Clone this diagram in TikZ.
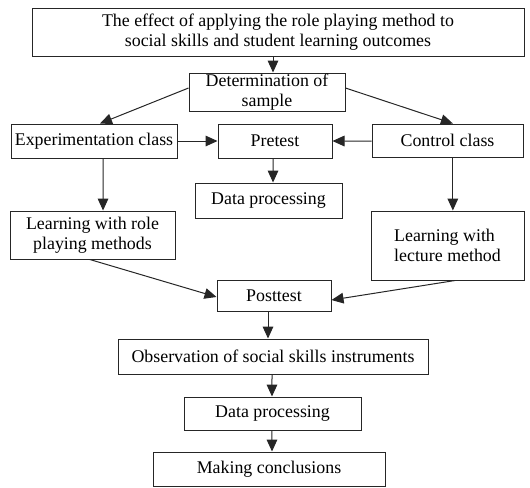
\documentclass[tikz,border=0pt]{standalone}
\usepackage{fontspec}
\setmainfont{Liberation Serif}
\usetikzlibrary{arrows.meta}
\begin{document}
\begin{tikzpicture}[x=0.75pt,y=-0.75pt,
  box/.style={draw=black!85,line width=0.75pt,rectangle,inner sep=0pt,align=center,
    font=\fontsize{13.4}{15.4}\selectfont},
  arr/.style={draw=black!85,line width=0.75pt,-{Triangle[length=9pt,width=8pt]}}]
\useasboundingbox (0,0) rectangle (530,487);
\node[box,minimum width=492*0.75pt,minimum height=48*0.75pt] (top) at (278,32)
  {The effect of applying the role playing method to\\social skills and student learning outcomes};
\node[box,minimum width=156*0.75pt,minimum height=38*0.75pt] (det) at (267,92) {Determination of\\sample};
\node[box,minimum width=166*0.75pt,minimum height=34*0.75pt] (exp) at (94,141) {Experimentation class};
\node[box,minimum width=114*0.75pt,minimum height=34*0.75pt] (pre) at (275,141) {Pretest};
\node[box,minimum width=151*0.75pt,minimum height=33*0.75pt] (ctrl) at (447.5,140.5) {Control class};
\node[box,minimum width=147*0.75pt,minimum height=35*0.75pt] (dpa) at (268.5,200.5) {Data processing};
\node[box,minimum width=165*0.75pt,minimum height=48*0.75pt] (lrole) at (92.5,235) {Learning with role\\playing methods};
\node[box,align=left,minimum width=153*0.75pt,minimum height=69*0.75pt] (llect) at (447.5,245.5) {Learning with\\lecture method};
\node[box,minimum width=114*0.75pt,minimum height=31*0.75pt] (post) at (274,295.5) {Posttest};
\node[box,minimum width=310*0.75pt,minimum height=35*0.75pt] (obs) at (273,356.5) {Observation of social skills instruments};
\node[box,minimum width=177*0.75pt,minimum height=33*0.75pt] (dpb) at (272.5,413.5) {Data processing};
\node[box,minimum width=232*0.75pt,minimum height=34*0.75pt] (conc) at (269,469) {Making conclusions};
% connectors
\draw[arr] ([xshift=-3.75pt]top.south) -- ([xshift=4.5pt]det.north);
\draw[arr] ([yshift=3pt]det.west) -- ([xshift=4.5pt]exp.north);
\draw[arr] ([yshift=3pt]det.east) -- ([xshift=4pt]ctrl.north);
\draw[arr] (exp.east) -- (pre.west);
\draw[arr] ([yshift=-0.4pt]ctrl.west) -- (pre.east);
\draw[arr] ([xshift=6.75pt]exp.south) -- ([xshift=7.9pt]lrole.north);
\draw[arr] ([xshift=-1.5pt]pre.south) -- ([xshift=3.4pt]dpa.north);
\draw[arr] ([xshift=4pt]ctrl.south) -- ([xshift=4pt]llect.north);
\draw[arr] ([xshift=-2pt]lrole.south) -- ([yshift=-1.1pt]post.west);
\draw[arr] ([xshift=5.6pt]llect.south) -- ([yshift=-3.4pt]post.east);
\draw[arr] ([xshift=-4.5pt]post.south) -- ([xshift=-3.75pt]obs.north);
\draw[arr] ([xshift=-0.75pt]obs.south) -- ([xshift=-0.4pt]dpb.north);
\draw[arr] ([xshift=-0.4pt]dpb.south) -- ([xshift=2.25pt]conc.north);
\end{tikzpicture}
\end{document}
